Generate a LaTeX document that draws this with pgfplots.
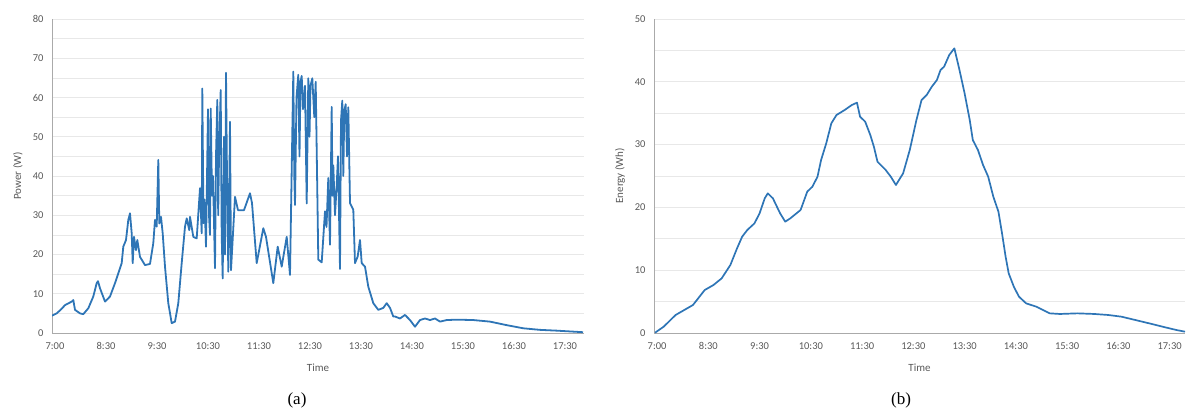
\documentclass[border=0pt]{standalone}
\usepackage{pgfplots}
\pgfplotsset{compat=1.18}
\usepackage{fontspec}
\setmainfont{Liberation Serif}
\newfontfamily\calfont{Carlito}
\definecolor{lineblue}{RGB}{46,117,182}
\definecolor{txtgray}{RGB}{89,89,89}
\definecolor{axgray}{RGB}{170,170,170}
\definecolor{gridgray}{RGB}{232,232,232}

\pgfplotsset{
  exstyle/.style={
    scale only axis,
    anchor=south west,
    ymin=0,
    axis x line*=bottom, axis y line*=left,
    axis line style={axgray, line width=0.9pt, -},
    major tick length=0pt, minor tick length=0pt,
    ymajorgrids, yminorgrids,
    major grid style={gridgray, line width=0.7pt},
    minor grid style={gridgray, line width=0.7pt},
    tick label style={font=\calfont\fontsize{10.5}{12}\selectfont, text=txtgray},
    /pgf/number format/assume math mode=true,
    xticklabel style={yshift=-6pt},
    yticklabel style={xshift=-5pt},
    label style={font=\calfont\fontsize{11}{12}\selectfont, text=txtgray},
    xlabel style={at={(axis description cs:0.5,-0.111)}, anchor=center},
    ylabel style={at={(axis description cs:-0.064,0.5)}, anchor=center},
    xlabel={Time},
  }
}

\begin{document}
\begin{tikzpicture}[x=1pt,y=1pt]
\path[use as bounding box] (0,0) rectangle (1186,416);

% ---------------- (a) Power ----------------
\begin{axis}[exstyle,
  at={(52pt,83pt)}, width=532pt, height=314pt,
  xmin=52, xmax=584, ymax=80,
  xtick={55,106,157,208,259,310,361,412,463,514,565},
  xticklabels={7:00,8:30,9:30,10:30,11:30,12:30,13:30,14:30,15:30,16:30,17:30},
  ytick={0,10,...,80}, minor ytick={5,15,...,75},
  ylabel={Power (W)},
]
\addplot[lineblue, line width=1.8pt, line join=round] table {
52 4.4
56.7 5.0
61 6.0
65 7.1
71.7 8.0
73.3 8.4
75 5.9
80 5.0
83.3 4.8
88.3 6.3
93.3 9.3
96.7 12.7
98 13.2
100 11.4
105 8.0
110 9.3
115 12.7
118.3 15.2
121.7 17.8
123.3 22.0
126 23.7
128.3 28.8
130 30.5
131.7 25.4
132.7 17.8
134 24.5
136 21.1
137.3 23.7
140 19.4
145 17.3
150 17.6
153.3 22.9
155 28.8
156.7 27.1
158.3 44.1
159.3 27.9
161 29.6
162.7 25.4
165 16.9
168.3 7.6
171.7 2.5
175 2.9
178.3 7.6
181.7 17.8
185 27.1
186.7 29.2
189.3 26.2
190 29.6
193.3 24.5
196.7 24.1
200 36.9
201.7 25.4
202.3 62.3
203.5 28
204.5 34
206 22
208 57
209 30
210 25
210.7 57.2
212 35
213 40
215 16.5
216 45
217.3 59.4
218.2 30
219 45
220.7 61.9
221.7 25
222.7 13.9
224 50
225 20
226 66.3
227 40
228.3 15.6
229 30
230 53.8
231 16
235 34.7
238 31.3
244 31.3
250 35.6
252 33.1
256.7 17.8
263.3 26.7
266 24.5
273.3 12.7
277.7 22
281.7 16.9
286.7 24.5
290 14.8
293.3 66.6
294.3 40
295 32.6
296.5 60
298.3 65.8
299.5 45
300.5 64
301.7 65.5
303 57
305 63
306.7 33
308.3 64.9
309.5 50
310.5 63
312.3 64.9
314.3 55
315.7 64
318.3 18.7
321.7 18
325 31
326.5 27
328.3 39.5
330 22.5
331.7 57.6
332.5 35
333.3 42.7
335 30
336.7 37.6
338 45
340 16.3
341 54.1
342.3 59.2
343.3 40
344.3 56.6
345.7 58.3
347 45
348.3 57.5
350 33.1
353.3 31.4
355 17.8
357.7 19.5
360 23.7
361.7 17.8
365 16.9
368.3 11.8
373.3 7.6
378.3 5.9
383.3 6.4
386.7 7.6
390 6.4
393.3 4.2
395 4.2
400 3.7
405 4.6
410 3.3
415 1.6
420 3.3
425 3.7
430 3.3
435 3.7
440 2.9
446.7 3.3
456.7 3.4
473.3 3.3
490 2.9
506.7 2.0
523.3 1.2
540 0.8
556.7 0.6
576.7 0.3
583 0.2
};
\end{axis}

% ---------------- (b) Energy ----------------
\begin{axis}[exstyle,
  at={(654pt,83pt)}, width=531pt, height=314pt,
  xmin=-0.06, xmax=10.3, ymax=50,
  xtick={0,1,...,10},
  xticklabels={7:00,8:30,9:30,10:30,11:30,12:30,13:30,14:30,15:30,16:30,17:30},
  ytick={0,10,...,50}, minor ytick={5,15,...,45},
  ylabel={Energy (Wh)},
]
\addplot[lineblue, line width=1.7pt, line join=round] table {
-0.04 0.05
0.13 1.01
0.36 2.86
0.53 3.66
0.70 4.46
0.93 6.85
1.10 7.64
1.26 8.70
1.43 10.83
1.56 13.48
1.66 15.34
1.76 16.40
1.90 17.46
2.00 19.06
2.10 21.44
2.16 22.24
2.26 21.44
2.40 19.06
2.50 17.73
2.60 18.26
2.80 19.59
2.93 22.51
3.03 23.30
3.13 24.89
3.20 27.55
3.30 30.20
3.40 33.39
3.50 34.71
3.66 35.51
3.80 36.31
3.90 36.68
3.96 34.45
4.06 33.65
4.16 31.53
4.23 29.67
4.30 27.28
4.46 25.96
4.56 24.89
4.66 23.57
4.80 25.42
4.93 29.14
5.06 33.92
5.16 37.10
5.26 37.90
5.36 39.22
5.46 40.29
5.53 41.88
5.60 42.41
5.70 44.27
5.80 45.33
5.90 41.88
6.00 38.16
6.10 33.92
6.16 30.73
6.26 29.14
6.36 26.75
6.46 24.89
6.56 21.71
6.66 19.32
6.73 15.87
6.80 12.15
6.86 9.50
6.96 7.38
7.06 5.79
7.20 4.72
7.40 4.19
7.66 3.13
7.86 3.03
8.20 3.13
8.53 3.03
8.80 2.87
9.06 2.60
9.33 2.07
9.60 1.54
9.86 1.01
10.13 0.48
10.30 0.21
};
\end{axis}

\node[font=\fontsize{17}{20}\selectfont] at (297,16) {(a)};
\node[font=\fontsize{17}{20}\selectfont] at (901,16) {(b)};
\end{tikzpicture}
\end{document}
